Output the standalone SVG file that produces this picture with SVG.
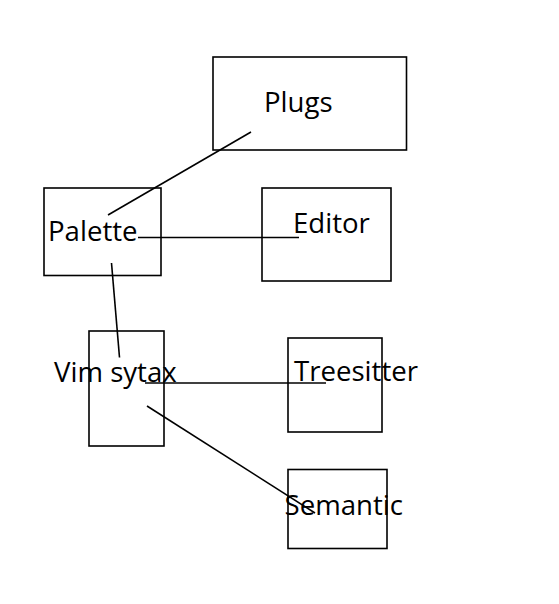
<svg xmlns="http://www.w3.org/2000/svg" width="559" height="604" viewBox="0 0 559 604">
<style>
.box{fill:none;stroke:#000;stroke-width:1.6}
.lbl{font-family:"Open Sans","Noto Sans",sans-serif;font-size:27.6px;fill:#000}
.conn line{stroke:#000;stroke-width:1.6}
</style>
<rect width="559" height="604" fill="#fff"/>
<g id="node-plugs"><rect class="box" x="213" y="57" width="193.5" height="93"/><text class="lbl" x="264" y="112">Plugs</text></g>
<g id="node-palette"><rect class="box" x="44" y="188" width="117" height="87.5"/><text class="lbl" x="48" y="241">Palette</text></g>
<g id="node-editor"><rect class="box" x="262" y="188" width="129" height="93"/><text class="lbl" x="293" y="233">Editor</text></g>
<g id="node-vim"><rect class="box" x="89" y="331" width="75" height="115"/><text class="lbl" x="54" y="382">Vim sytax</text></g>
<g id="node-treesitter"><rect class="box" x="288" y="338" width="94" height="94"/><text class="lbl" x="294" y="381">Treesitter</text></g>
<g id="node-semantic"><rect class="box" x="288" y="469.5" width="99" height="79"/><text class="lbl" x="284.5" y="515">Semantic</text></g>
<g id="connectors" class="conn">
<line x1="251" y1="132" x2="108" y2="215"/>
<line x1="138" y1="237.5" x2="299" y2="237.5"/>
<line x1="111.5" y1="263" x2="119.5" y2="357.5"/>
<line x1="145" y1="383" x2="326" y2="383"/>
<line x1="147" y1="406" x2="315" y2="513"/>
</g>
</svg>
